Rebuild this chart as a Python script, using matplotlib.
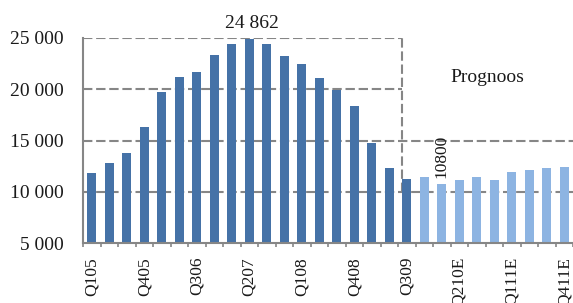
import matplotlib
matplotlib.use('Agg')
import matplotlib.pyplot as plt
from matplotlib.ticker import FuncFormatter

# quarters, actual then forecast (E)
quarters = ['Q105', 'Q205', 'Q305', 'Q405', 'Q106', 'Q206', 'Q306', 'Q406',
            'Q107', 'Q207', 'Q307', 'Q407', 'Q108', 'Q208', 'Q308', 'Q408',
            'Q109', 'Q209', 'Q309',
            'Q409', 'Q110E', 'Q210E', 'Q310E', 'Q410E', 'Q111E', 'Q211E', 'Q311E', 'Q411E']
actual = [11800, 12800, 13800, 16300, 19750, 21200, 21700, 23350,
          24400, 24862, 24400, 23250, 22450, 21100, 19950, 18400,
          14750, 12300, 11250]
forecast = [11450, 10800, 11150, 11450, 11150, 11950, 12150, 12300, 12400]
yticks = [5000, 10000, 15000, 20000, 25000]

plt.rcParams['font.family'] = ['Liberation Serif', 'DejaVu Serif']
grey = '#868686'
dark = '#4572A7'
light = '#8DB4E2'

fig = plt.figure(figsize=(5.73, 3.03), dpi=100)
ax = fig.add_axes([83/573, 60/303, 490/573, 205/303])

n_act = len(actual)
x_act = list(range(n_act))
x_fc = list(range(n_act, n_act + len(forecast)))

# gridlines / forecast box drawn by hand like the original
split = n_act - 1 - 0.28
dash = (0, (4.5, 1.8))
ax.hlines([25000, 20000], -0.5, split, colors=grey, lw=1.5, linestyles=dash, zorder=1)
ax.hlines([15000, 10000], -0.5, len(quarters) - 0.5, colors=grey, lw=1.5, linestyles=dash, zorder=1)
ax.vlines(split, 10000, 25000, colors=grey, lw=1.5, linestyles=dash, zorder=1)

ax.bar(x_act, actual, width=0.53, color=dark, zorder=2)
ax.bar(x_fc, forecast, width=0.53, color=light, zorder=2)

ax.set_xlim(-0.5, len(quarters) - 0.5)
ax.set_ylim(5000, 25000)

peak = actual.index(max(actual))
ax.annotate('{:,}'.format(max(actual)).replace(',', ' '), xy=(peak, max(actual)),
            xytext=(2, 5), textcoords='offset points', ha='center', va='bottom',
            fontsize=14, color='#1a1a1a')
low = forecast.index(min(forecast)) + n_act
ax.annotate(str(min(forecast)), xy=(low, min(forecast)), xytext=(0, 4),
            textcoords='offset points', ha='center', va='bottom', rotation=90,
            fontsize=12.5, color='#1a1a1a')
ax.text(22.6, 21100, 'Prognoos', ha='center', va='center', fontsize=14, color='#1a1a1a')

ax.set_yticks(yticks)
ax.yaxis.set_major_formatter(FuncFormatter(lambda v, p: '{:,}'.format(int(v)).replace(',', ' ')))
ax.tick_params(axis='y', length=0, pad=14, labelsize=14, labelcolor='#1a1a1a')

ax.set_xticks(list(range(0, len(quarters), 3)))
ax.set_xticklabels(quarters[::3], rotation=90)
ax.set_xticks([i - 0.5 for i in range(len(quarters) + 1)], minor=True)
ax.tick_params(axis='x', which='major', length=0, pad=10, labelsize=12.5, labelcolor='#1a1a1a')
ax.tick_params(axis='x', which='minor', length=3, width=1.2, color=grey)

for s in ['top', 'right']:
    ax.spines[s].set_visible(False)
for s in ['left', 'bottom']:
    ax.spines[s].set_color(grey)
    ax.spines[s].set_linewidth(1.5)

fig.savefig('out.png', dpi=100)
